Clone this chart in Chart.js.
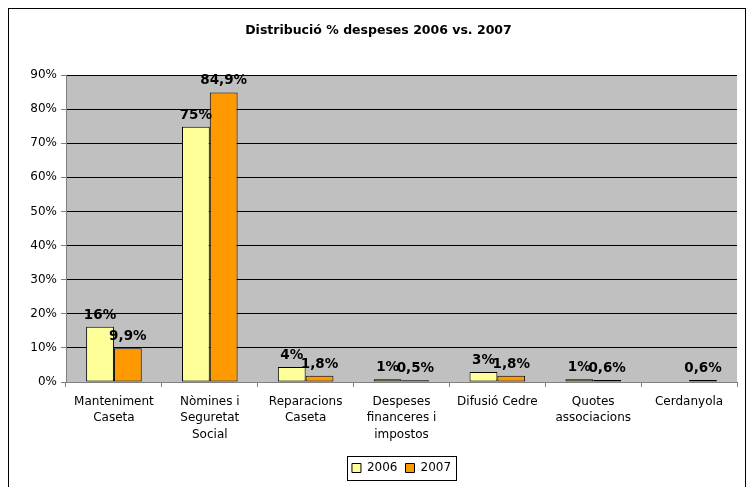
<!DOCTYPE html>
<html>
<head>
<meta charset="utf-8">
<script src="https://cdn.jsdelivr.net/npm/chart.js@4/dist/chart.umd.min.js"></script>
<style>
  html, body { margin: 0; padding: 0; background: #fff; }
  #wrap { position: relative; width: 752px; height: 487px; }
</style>
</head>
<body>
<div id="wrap"><canvas id="chart" width="752" height="487"></canvas></div>
<script>
'use strict';

// ── Data ──────────────────────────────────────────────────────────────────────
const CATEGORIES = [
  ['Manteniment', 'Caseta'],
  ['Nòmines i', 'Seguretat', 'Social'],
  ['Reparacions', 'Caseta'],
  ['Despeses', 'financeres i', 'impostos'],
  ['Difusió Cedre'],
  ['Quotes', 'associacions'],
  ['Cerdanyola']
];
const SERIES    = ['2006', '2007'];
const VALS_2006 = [16.2, 74.8, 4.4, 0.8, 2.9, 0.8, 0];
const VALS_2007 = [9.9, 84.9, 1.8, 0.5, 1.8, 0.6, 0.6];
const DECIMALS  = [0, 1];                 // label precision per series
const Y_TICKS   = [0, 10, 20, 30, 40, 50, 60, 70, 80, 90];
const COLORS    = ['#FFFF99', '#FF9900'];

const FONT = 'DejaVu Sans';

// ── Plugins ───────────────────────────────────────────────────────────────────
const frame = {
  id: 'frame',
  beforeDraw(chart) {
    const { ctx, chartArea: a } = chart;
    ctx.save();
    ctx.strokeStyle = '#000';
    ctx.lineWidth = 1;
    ctx.strokeRect(8.5, 8.5, 737, 520);
    ctx.fillStyle = '#C0C0C0';
    ctx.fillRect(a.left, a.top, a.right - a.left, a.bottom - a.top);
    ctx.restore();
  },
  afterDraw(chart) {
    const { ctx, legend } = chart;
    const boxes = legend.legendHitBoxes || [];
    if (!boxes.length) return;
    const l = Math.min(...boxes.map(b => b.left)) - 5;
    const r = Math.max(...boxes.map(b => b.left + b.width)) + 5;
    const t = Math.min(...boxes.map(b => b.top)) - 6;
    const btm = Math.max(...boxes.map(b => b.top + b.height)) + 6;
    ctx.save();
    ctx.strokeStyle = '#000';
    ctx.lineWidth = 1;
    ctx.strokeRect(Math.round(l) + 0.5, Math.round(t) + 0.5, Math.round(r - l), Math.round(btm - t));
    ctx.restore();
  }
};

const valueLabels = {
  id: 'valueLabels',
  afterDatasetsDraw(chart) {
    const { ctx } = chart;
    ctx.save();
    ctx.font = `bold 13.5px "${FONT}"`;
    ctx.fillStyle = '#000';
    ctx.textAlign = 'center';
    ctx.textBaseline = 'alphabetic';
    chart.data.datasets.forEach((ds, di) => {
      chart.getDatasetMeta(di).data.forEach((bar, i) => {
        const v = ds.data[i];
        if (!v) return;
        const txt = v.toFixed(DECIMALS[di]).replace('.', ',') + '%';
        ctx.fillText(txt, bar.x, bar.y - 8);
      });
    });
    ctx.restore();
  }
};

// ── Chart ─────────────────────────────────────────────────────────────────────
Chart.defaults.font.family = FONT;
Chart.defaults.color = '#000';

new Chart(document.getElementById('chart').getContext('2d'), {
  type: 'bar',
  data: {
    labels: CATEGORIES,
    datasets: [VALS_2006, VALS_2007].map((vals, i) => ({
      label:           SERIES[i],
      data:            vals,
      backgroundColor: COLORS[i],
      borderColor:     '#000',
      borderWidth:     1,
      borderSkipped:   false,
      categoryPercentage: 0.58,
      barPercentage:   1
    }))
  },
  options: {
    responsive: false,
    animation: false,
    layout: { padding: { left: 20, right: 15, top: 0, bottom: 3 } },
    plugins: {
      title: {
        display: true,
        text: 'Distribució % despeses 2006 vs. 2007',
        font: { size: 12.5, weight: 'bold' },
        color: '#000',
        padding: { top: 23, bottom: 37 }
      },
      legend: {
        position: 'bottom',
        fullSize: false,
        labels: {
          boxWidth: 9,
          boxHeight: 9,
          padding: 8,
          font: { size: 12 },
          color: '#000'
        }
      },
      tooltip: { enabled: false }
    },
    scales: {
      x: {
        grid: {
          offset: true,
          drawOnChartArea: false,
          color: '#808080',
          tickLength: 5
        },
        border: { color: '#808080' },
        ticks: { font: { size: 12, lineHeight: 1.4 }, maxRotation: 0, autoSkip: false, padding: 6 },
        afterFit: s => { s.height = 72; }
      },
      y: {
        min: 0,
        max: 90,
        afterBuildTicks: s => { s.ticks = Y_TICKS.map(v => ({ value: v })); },
        grid: { color: '#000', tickColor: '#808080', tickLength: 5 },
        border: { color: '#808080' },
        ticks: { font: { size: 12 }, padding: 4, callback: v => v + '%' },
        afterFit: s => { s.width = 46; }
      }
    }
  },
  plugins: [frame, valueLabels]
});
</script>
</body>
</html>
